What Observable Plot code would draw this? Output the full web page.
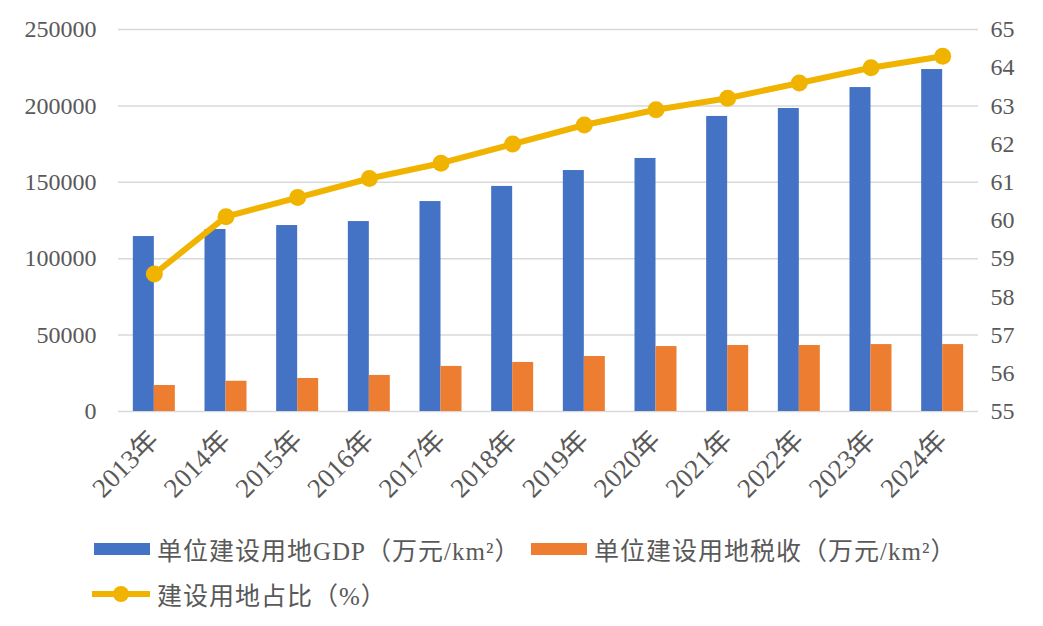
<!DOCTYPE html>
<html><head><meta charset="utf-8">
<script src="https://cdn.jsdelivr.net/npm/d3@7"></script>
<script src="https://cdn.jsdelivr.net/npm/@observablehq/plot@0.6"></script>
<style>
body{margin:0;background:#fff;font-family:"Liberation Serif","Noto Sans CJK SC",serif;color:#595959}
#chart svg{display:block}
.legend{position:relative;width:1043px;height:101px}
.item{position:absolute;display:flex;align-items:center;font-size:25px;letter-spacing:1px;white-space:nowrap}
.sw{display:inline-block;width:56px;height:12px;margin-right:7px}
</style></head><body>
<div id="chart"></div>
<div class="legend">
  <div class="item" style="left:94px;top:6px"><span class="sw" style="background:#4472C4"></span>单位建设用地GDP（万元/km²）</div>
  <div class="item" style="left:531px;top:6px"><span class="sw" style="background:#ED7D31"></span>单位建设用地税收（万元/km²）</div>
  <div class="item" style="left:92px;top:51px"><svg width="58" height="20" style="margin-right:7px"><line x1="1" y1="10" x2="57" y2="10" stroke="#F0B400" stroke-width="6" stroke-linecap="round"/><circle cx="29" cy="10" r="8" fill="#F0B400"/></svg>建设用地占比（%）</div>
</div>
<script>
const years = ["2013年","2014年","2015年","2016年","2017年","2018年","2019年","2020年","2021年","2022年","2023年","2024年"];
const gdp = [114500, 119100, 121700, 124300, 137400, 147300, 157700, 165600, 193100, 198300, 212000, 223800];
const tax = [17000, 19800, 21600, 23600, 29500, 32100, 36000, 42500, 43200, 43200, 43800, 43800];
const share = [58.6, 60.1, 60.6, 61.1, 61.5, 62.0, 62.5, 62.9, 63.2, 63.6, 64.0, 64.3];
const leftTicks = [0, 50000, 100000, 150000, 200000, 250000];
const rightTicks = [55, 56, 57, 58, 59, 60, 61, 62, 63, 64, 65];

const toLeft = p => (p - 55) * 25000;
const fromLeft = v => Math.round(v / 25000 + 55);
const rows = years.map((y, i) => ({year: y, gdp: gdp[i], tax: tax[i], share: share[i]}));

const chart = Plot.plot({
  width: 1043, height: 525,
  marginLeft: 118, marginRight: 65, marginTop: 29, marginBottom: 114,
  style: {fontFamily: '"Liberation Serif","Noto Sans CJK SC",serif', fontSize: "24px", color: "#595959", background: "#fff"},
  x: {domain: years, paddingInner: 0.414, paddingOuter: 0.207, round: false, label: null},
  y: {domain: [0, 250000], label: null},
  marks: [
    Plot.gridY(leftTicks, {stroke: "#D9D9D9", strokeOpacity: 1, strokeWidth: 1.5}),
    Plot.axisY(leftTicks, {anchor: "left", tickSize: 0, tickPadding: 22, label: null, tickFormat: d => String(d)}),
    Plot.axisY(rightTicks.map(toLeft), {anchor: "right", tickSize: 0, tickPadding: 12, label: null, tickFormat: d => String(fromLeft(d))}),
    Plot.axisX({tickRotate: -45, tickSize: 0, tickPadding: 24, fontSize: 27, label: null}),
    Plot.barY(rows, {x: "year", y: "gdp", fill: "#4472C4", insetRight: 21}),
    Plot.barY(rows, {x: "year", y: "tax", fill: "#ED7D31", insetLeft: 21}),
    Plot.line(rows, {x: "year", y: d => toLeft(d.share), stroke: "#F0B400", strokeWidth: 6}),
    Plot.dot(rows, {x: "year", y: d => toLeft(d.share), fill: "#F0B400", r: 8.5})
  ]
});
document.getElementById("chart").appendChild(chart);
</script>
</body></html>
